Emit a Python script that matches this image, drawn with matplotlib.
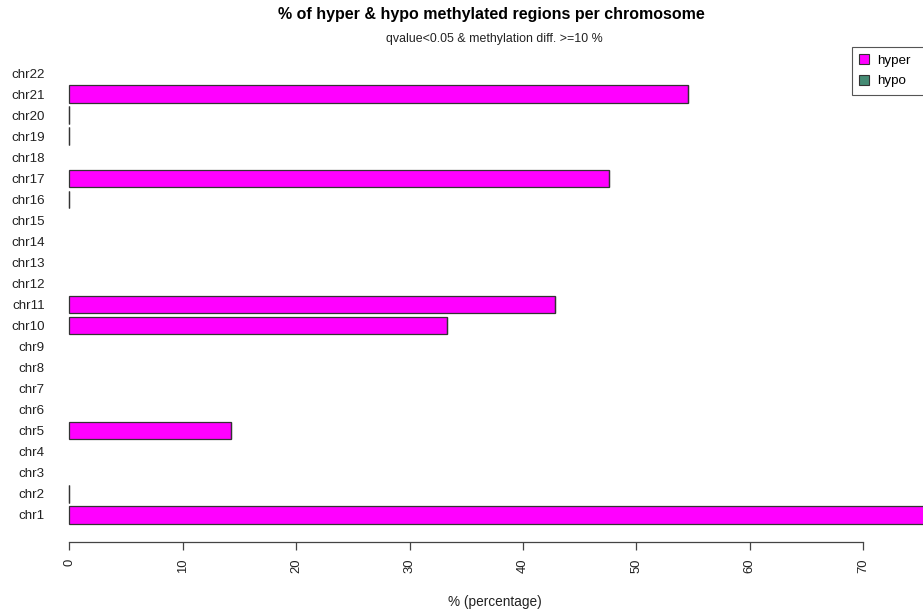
#!/usr/bin/env python

import numpy as np
import matplotlib.pyplot as plt
from matplotlib.patches import Patch

plt.rcParams['font.family'] = ['Liberation Sans', 'DejaVu Sans']

# percentage of hyper / hypo methylated regions per chromosome
# (nan = chromosome without any differentially methylated region)
chromosomes = ["chr" + str(i) for i in range(1, 23)]
hyper = [77.8, 0, np.nan, np.nan, 14.29, np.nan, np.nan, np.nan, np.nan, 33.33, 42.86,
         np.nan, np.nan, np.nan, np.nan, 0, 47.62, np.nan, 0, 0, 54.55, np.nan]
hypo = [0 if not np.isnan(v) else np.nan for v in hyper]
x_ticks = [0, 10, 20, 30, 40, 50, 60, 70]

hyper_col = "#FF00FF"
hypo_col = "#458B74"


def main():
    W, H = 923, 614
    fig = plt.figure(figsize=(W / 100, H / 100), dpi=100)

    # plot region in pixels; the right side runs past the figure edge
    left_px, right_px, top_px, bottom_px = 60, 977, 46, 542
    ax = fig.add_axes([left_px / W, 1 - bottom_px / H,
                       (right_px - left_px) / W, (bottom_px - top_px) / H])

    # R-style bar layout: width 1, space 0.2
    ypos = 0.2 + 0.5 + 1.2 * np.arange(len(chromosomes))
    hyper_arr = np.array(hyper, dtype=float)
    hypo_arr = np.array(hypo, dtype=float)
    ok = ~np.isnan(hyper_arr)
    ax.barh(ypos[ok], hyper_arr[ok], height=1.0, color=hyper_col,
            edgecolor="#333333", linewidth=0.9)
    ax.barh(ypos[ok], hypo_arr[ok], left=hyper_arr[ok], height=1.0, color=hypo_col,
            edgecolor="#333333", linewidth=0.9)

    x_per_px = 10 / 113.4
    ax.set_xlim(-(69.4 - left_px) * x_per_px, (right_px - 69.4) * x_per_px)
    ax.set_ylim(-0.848, 27.448)

    for s in ["top", "right", "left"]:
        ax.spines[s].set_visible(False)
    ax.spines["bottom"].set_bounds(0, 70)
    ax.spines["bottom"].set_color("#444444")
    ax.spines["bottom"].set_linewidth(0.9)

    ax.set_xticks(x_ticks)
    ax.set_xticklabels([str(t) for t in x_ticks], rotation=90, fontsize=9.4,
                       color="#222222")
    ax.tick_params(axis="x", length=5.8, width=0.9, color="#444444", pad=6)
    ax.set_yticks(ypos)
    ax.set_yticklabels(chromosomes, fontsize=9.6, color="#222222")
    ax.tick_params(axis="y", length=0, pad=11)

    fig.text(494.5 / W, 1 - 602 / H, "% (percentage)", ha="center", va="center",
             fontsize=9.8, color="#222222")
    fig.text(491 / W, 1 - 15 / H, "% of hyper & hypo methylated regions per chromosome",
             ha="center", va="center", fontsize=11.5, fontweight="bold")
    fig.text(494.5 / W, 1 - 39 / H, "qvalue<0.05 & methylation diff. >=10 %",
             ha="center", va="center", fontsize=8.9, color="#222222")

    handles = [Patch(facecolor=hyper_col, edgecolor="#333333", linewidth=0.8),
               Patch(facecolor=hypo_col, edgecolor="#333333", linewidth=0.8)]
    leg = fig.legend(handles, ["hyper", "hypo"], loc="upper left", mode="expand",
                     bbox_to_anchor=(852 / W, 1 - 97 / H, 100 / W, 50 / H),
                     fontsize=9.6, fancybox=False, framealpha=1, edgecolor="#555555",
                     handlelength=0.75, handleheight=0.75, handletextpad=0.6,
                     borderpad=0.55, labelspacing=0.6, borderaxespad=0)
    leg.get_frame().set_linewidth(0.8)

    fig.savefig("out.png", dpi=100)


if __name__ == "__main__":
    main()
